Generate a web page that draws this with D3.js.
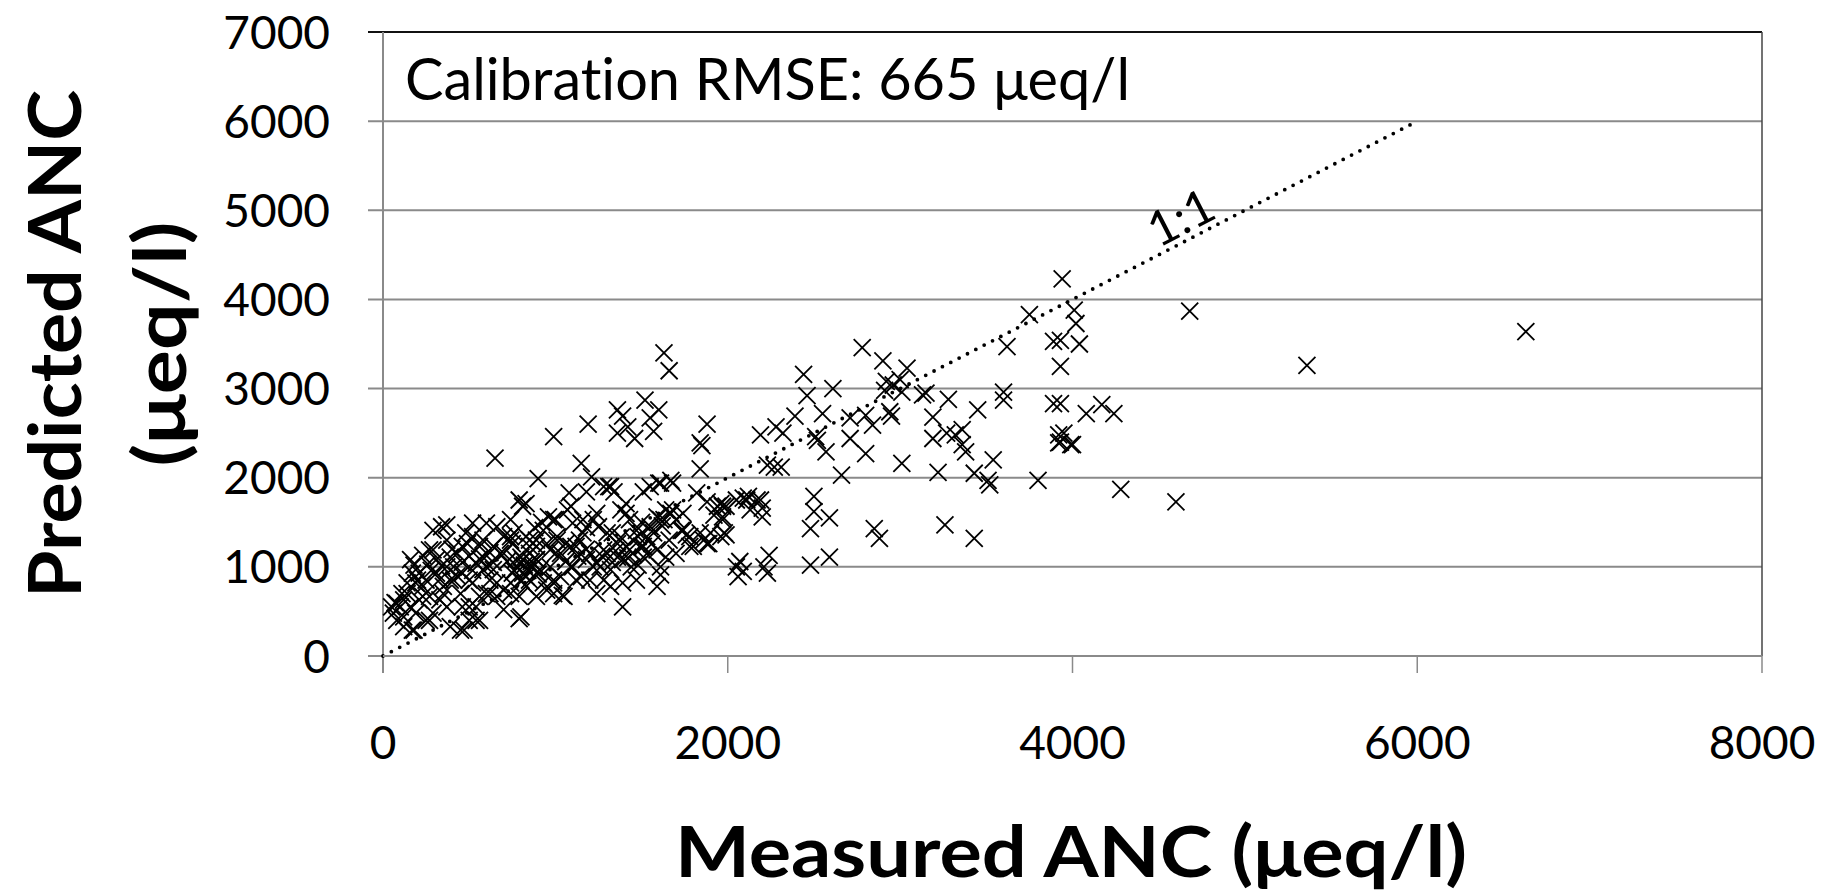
<!DOCTYPE html>
<html>
<head>
<meta charset="utf-8">
<script src="https://cdn.jsdelivr.net/npm/d3@7"></script>
<style>
  html, body { margin: 0; padding: 0; background: #fff; }
  svg text { font-family: Lato, "Open Sans", sans-serif; fill: #000; font-variant-ligatures: none; }
</style>
</head>
<body>
<div id="anc_chart"></div>
<script>
// axis ticks
const xTicks = [0, 2000, 4000, 6000, 8000];
const yTicks = [0, 1000, 2000, 3000, 4000, 5000, 6000, 7000];
const oneToOne = [0, 6000];
const rmseLabel = "Calibration RMSE: 665 \u03bceq/l";

// [measured, predicted] ANC
const calibration = [
    [2780,3460],[2900,3310],[3040,3230],[2440,3160],[2610,3000],[2460,2920],[2920,3080],[2960,3040],
    [2910,2980],[3000,3100],[3010,2960],[3130,2930],[3150,2950],[3280,2880],[3620,3470],[3600,2960],
    [3600,2870],[3930,3540],[3890,3530],[3930,3250],[3890,2830],[3930,2830],[3920,2480],[3930,2400],
    [3990,2370],[3450,2760],[3190,2680],[3190,2440],[3270,2500],[3320,2480],[3360,2540],[3380,2290],
    [3360,2370],[3540,2200],[3430,2050],[3510,1970],[3520,1920],[3220,2060],[3010,2160],[3800,1970],
    [3260,1470],[3430,1320],[2850,1430],[2880,1320],[2800,2270],[2710,2440],[2710,2670],[2840,2590],
    [2800,2700],[2940,2740],[2950,2690],[2660,2030],[2570,2290],[2520,2420],[2510,2460],[2550,2720],
    [2390,2690],[2280,2570],[2320,2500],[2190,2480],[2270,2120],[2230,2140],[2310,2120],[2500,1790],
    [2500,1620],[2590,1550],[2480,1430],[2590,1110],[2480,1020],[2240,1130],[2210,1000],[2070,1060],
    [2090,950],[2230,930],[2090,1770],[2170,1750],[2200,1660],[2200,1560],[1990,1680],[1990,1360],
    [2120,1790],[1970,1560],
    [3940,4230],[3750,3830],[4010,3880],[4020,3730],[4040,3500],[4680,3870],[4080,2720],[4170,2820],
    [4240,2720],[3950,2500],[3920,2390],[4000,2370],[4280,1870],[4600,1730],[6630,3640],[5360,3260],
    [1630,3400],[1660,3200],[1520,2870],[1600,2760],[1360,2760],[1390,2690],[1550,2670],[1190,2600],
    [1360,2500],[1420,2570],[1460,2440],[1570,2520],[990,2460],[1880,2600],[1840,2390],[1850,2360],
    [1840,2100],[1150,2160],[1210,2010],[1310,1900],[1340,1840],[1080,1830],[1180,1840],[1510,1840],
    [1600,1940],[1680,1940],[1820,1830],[1880,1730],[1940,1680],[1920,1580],[1970,1530],[1980,1380],
    [1840,1380],[1890,1260],[1760,1360],[1780,1230],[1730,1410],[1670,1600],[1610,1530],[1550,1450],
    [1410,1710],[1380,1640],[1430,1530],[1480,1340],[1430,1190],[1510,1110],[1590,1190],[1640,1110],
    [1240,1600],[1220,1530],[1100,1490],[1000,1530],[1140,1300],[1090,1230],[1200,1150],[1280,1190],
    [1360,1110],[1440,1000],[1320,970],[1220,1000],[1100,1000],[1030,890],[1150,890],[1280,850],
    [1390,820],[1590,780],[1610,910],[1390,550],[1040,680],[990,820],[2050,1000],[2060,890],
    [1640,1640],[1570,1380],[1500,1230],[1330,1380],[1660,1300],[1700,1150],[1070,1640],[1160,1380],
    [1300,1380],[1410,1230],
    [650,2220],[900,1990],[790,1750],[810,1680],[830,1710],[340,1450],[370,1470],[520,1490],
    [660,1450],[960,1560],[990,1530],[520,1340],[580,1300],[700,1340],[750,1260],[850,1300],
    [890,1230],[290,1190],[230,1130],[180,1020],[460,1230],[580,1110],[680,1150],[770,1080],
    [810,930],[850,850],[910,970],[990,850],[990,700],[950,740],[790,670],[790,420],
    [700,520],[660,670],[560,670],[520,820],[460,930],[390,850],[350,780],[310,930],
    [250,850],[190,820],[140,700],[80,590],[60,480],[120,440],[160,550],[210,630],
    [270,670],[120,330],[170,290],[250,400],[390,330],[450,290],[500,400],[560,400],
    [460,550],[370,550],[330,630],[450,700],[620,850],[640,970],[740,820],[700,740],
    [830,780],[890,1080],[970,1190],[1010,1300],[930,1410],[850,1150],[810,1080],[580,970],
    [540,1040],[410,1000],[390,1110],[310,1080],[640,1230],[480,1380],[740,1340],[210,930],
    [100,550],[70,600],[190,480],[290,480],[540,550],[620,700],[750,930],
    [1090,1680],[1010,1340],[1160,1530],[1280,1900],[1320,1900],[1410,1600],[1550,1900],[1610,1940],
    [1670,1970],[1590,1560],[1630,1530],[1680,1640],[1740,1410],[1780,1340],[1800,1230],[1880,1260],
    [1960,1340],[1970,1680],[2050,1750],[2130,1640],
    [160,1080],[270,1190],[200,850],[370,1000],[430,1150],[490,1260],[560,1230],[600,1000],
    [700,1150],[740,1300],[780,1000],[830,890],[850,1230],[890,1080],[930,820],[970,1000],
    [1030,1150],[1090,1000],[1120,1230],[1180,1080],[1200,850],[1260,1000],[1300,1150],[1360,1260],
    [1390,1080],[1450,1150],[1510,1230],[1530,1340],[1470,1410],[1610,1000],[1470,850],[1320,780],
    [1050,670],[890,670],[800,440],[540,400],[470,290],[270,400],[180,290],[80,400],
    [50,550],[120,630],[230,670],[350,700],[500,850],[410,850],[600,700],[660,820],
    [740,700],[800,850],[1120,850],[1240,700],[500,550],
    [290,1410],[370,1300],[600,1490],[740,1530],[830,1340],[760,1380],[890,1300],
    [1960,1710],[1860,1300],[1900,1380],[2110,1750],[2190,1750],
    // extra marks in the dense band
    [820,1020],[840,960],[860,1060],[800,1110],[870,1000],[760,960],[720,1060],[900,920],
    [640,1050],[620,1160],[560,1090],[500,1120],[520,960],[460,1050],[430,900],[400,1200],
    [340,1010],[330,860],[280,960],[260,1030],[230,780],[170,930],[140,820],[110,700],
    [1240,1050],[1270,1120],[1330,1050],[1350,1180],[1420,1100],[1480,1020],[1540,1130],[1560,1260],
    [1450,1300],[1380,1330],[1180,1200],[1130,1120],[1060,1060],[1000,1150],[950,1260],[1060,1260],
    [1700,1530],[1740,1600],[1620,1460],[1500,1500],[1180,1440],[1250,1450],[920,1500],[880,1440]
];

function ancChart() {
    const width = 1830;
    const height = 893;
    const margin = { top: 32, right: 68, bottom: 237, left: 383 };
    const plotW = width - margin.left - margin.right;
    const plotH = height - margin.top - margin.bottom;

    const x = d3.scaleLinear().domain([0, 8000]).range([0, plotW]);
    const y = d3.scaleLinear().domain([0, 7000]).range([plotH, 0]);

    const svg = d3.select('#anc_chart').append('svg')
        .attr('width', width)
        .attr('height', height);

    const g = svg.append('g')
        .attr('transform', `translate(${margin.left},${margin.top})`);

    // horizontal gridlines (with outside tick on the left)
    g.selectAll('.grid')
        .data(yTicks)
        .enter().append('line')
        .attr('x1', -15)
        .attr('x2', plotW)
        .attr('y1', d => y(d))
        .attr('y2', d => y(d))
        .style('stroke', d => d === 7000 ? '#111' : '#8a8a8a')
        .style('stroke-width', 2);

    // left axis + right border
    g.append('line')
        .attr('x1', 0).attr('x2', 0)
        .attr('y1', 0).attr('y2', plotH + 17)
        .style('stroke', '#8a8a8a')
        .style('stroke-width', 2);
    g.append('line')
        .attr('x1', plotW).attr('x2', plotW)
        .attr('y1', 0).attr('y2', plotH)
        .style('stroke', '#444')
        .style('stroke-width', 1.5);

    // x ticks below axis
    g.selectAll('.xtick')
        .data(xTicks.slice(1))
        .enter().append('line')
        .attr('x1', d => x(d)).attr('x2', d => x(d))
        .attr('y1', plotH).attr('y2', plotH + 17)
        .style('stroke', '#8a8a8a')
        .style('stroke-width', 1.5);

    // tick labels
    g.selectAll('.ylabel')
        .data(yTicks)
        .enter().append('text')
        .attr('x', -53)
        .attr('y', d => y(d))
        .attr('dy', '0.36em')
        .attr('text-anchor', 'end')
        .style('font-size', '46px')
        .text(d => d);

    g.selectAll('.xlabel')
        .data(xTicks)
        .enter().append('text')
        .attr('x', d => x(d))
        .attr('y', plotH + 103)
        .attr('text-anchor', 'middle')
        .style('font-size', '46px')
        .text(d => d);

    // 1:1 line
    g.append('line')
        .attr('x1', x(oneToOne[0])).attr('y1', y(oneToOne[0]))
        .attr('x2', x(oneToOne[1])).attr('y2', y(oneToOne[1]))
        .style('stroke', '#000')
        .style('stroke-width', 3.8)
        .style('stroke-linecap', 'round')
        .style('stroke-dasharray', '0 9.4');

    const angle = Math.atan2(y(oneToOne[1]) - y(oneToOne[0]), x(oneToOne[1]) - x(oneToOne[0])) * 180 / Math.PI;
    g.append('text')
        .attr('transform', `translate(${x(4690)},${y(4690)}) rotate(${angle}) translate(0,-6)`)
        .attr('text-anchor', 'middle')
        .style('font-size', '48px')
        .text('1:1');

    // measured vs predicted crosses
    const s = 8.5;
    g.selectAll('.pt')
        .data(calibration)
        .enter().append('path')
        .attr('class', 'pt')
        .attr('d', d => {
            const cx = x(d[0]), cy = y(d[1]);
            return `M${cx - s},${cy - s}L${cx + s},${cy + s}M${cx - s},${cy + s}L${cx + s},${cy - s}`;
        })
        .style('stroke', '#000')
        .style('stroke-width', 1.8)
        .style('fill', 'none');

    // bottom axis line on top of marks
    g.append('line')
        .attr('x1', 0).attr('x2', plotW)
        .attr('y1', plotH).attr('y2', plotH)
        .style('stroke', '#8a8a8a')
        .style('stroke-width', 2);

    // annotation
    g.append('text')
        .attr('x', 22)
        .attr('y', 68)
        .attr('textLength', 725)
        .attr('lengthAdjust', 'spacingAndGlyphs')
        .style('font-size', '58px')
        .text(rmseLabel);

    // axis titles
    svg.append('text')
        .attr('x', 1071)
        .attr('y', 877)
        .attr('text-anchor', 'middle')
        .attr('textLength', 792)
        .attr('lengthAdjust', 'spacingAndGlyphs')
        .style('font-size', '70px')
        .style('font-weight', 'bold')
        .text('Measured ANC (\u03bceq/l)');

    const yTitle = svg.append('g')
        .attr('transform', 'translate(0,344) rotate(-90)');
    yTitle.append('text')
        .attr('x', 0)
        .attr('y', 81)
        .attr('text-anchor', 'middle')
        .attr('textLength', 508)
        .attr('lengthAdjust', 'spacingAndGlyphs')
        .style('font-size', '72px')
        .style('font-weight', 'bold')
        .text('Predicted ANC');
    yTitle.append('text')
        .attr('x', 0)
        .attr('y', 186)
        .attr('text-anchor', 'middle')
        .attr('textLength', 245)
        .attr('lengthAdjust', 'spacingAndGlyphs')
        .style('font-size', '72px')
        .style('font-weight', 'bold')
        .text('(\u03bceq/l)');
}

ancChart();
</script>
</body>
</html>
